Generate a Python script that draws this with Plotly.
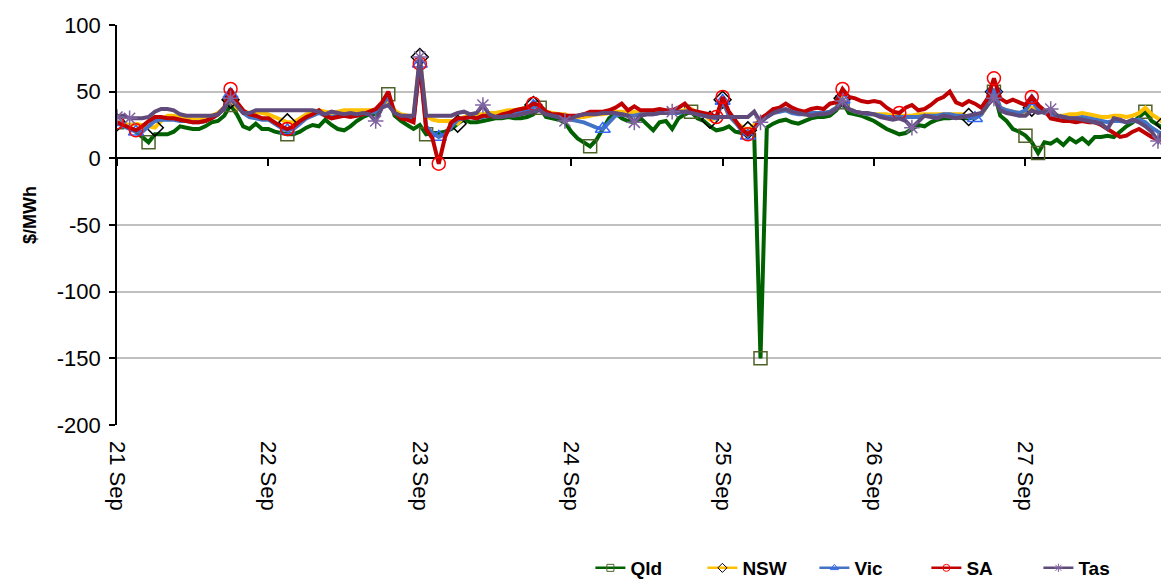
import pandas as pd
import plotly.graph_objects as go

# ---------------- data (hourly prices, $/MWh) ----------------
start = "2019-09-21 00:00"
times = pd.date_range(start, periods=168, freq="h")

tick_dates = ["2019-09-21", "2019-09-22", "2019-09-23", "2019-09-24",
              "2019-09-25", "2019-09-26", "2019-09-27"]
tick_labels = ["21 Sep", "22 Sep", "23 Sep", "24 Sep", "25 Sep", "26 Sep", "27 Sep"]
y_tick_values = [100, 50, 0, -50, -100, -150, -200]
y_tick_labels = ["100", "50", "0", "-50", "-100", "-150", "-200"]

qld = [27, 25, 23, 20, 16, 12, 18, 18, 18, 20, 24, 23, 22, 22, 24, 27, 28, 32, 40, 33, 24, 22, 26, 22,
       22, 20, 19, 18, 18, 20, 23, 25, 24, 29, 25, 22, 21, 24, 28, 31, 33, 33, 40, 48, 32, 28, 25, 22,
       25, 18, 19, 19, 20, 22, 26, 29, 27, 27, 28, 29, 30, 30, 31, 30, 30, 31, 33, 38, 31, 30, 29, 27,
       20, 15, 12, 9, 14, 22, 30, 34, 30, 28, 27, 30, 25, 21, 27, 28, 22, 30, 33, 35, 30, 28, 24, 21,
       22, 24, 20, 19, 19, 18, -150, 23, 26, 28, 29, 27, 26, 28, 30, 31, 31, 32, 36, 42, 34, 33, 32, 30,
       28, 25, 22, 20, 18, 19, 22, 25, 24, 27, 29, 30, 30, 31, 30, 30, 31, 33, 40, 50, 32, 28, 22, 20,
       17, 12, 4, 12, 11, 14, 10, 15, 12, 15, 11, 16, 16, 17, 16, 20, 24, 27, 31, 35, 28, 25, 22, 20]

nsw = [27, 26, 25, 26, 25, 24, 23, 28, 32, 32, 31, 30, 29, 29, 30, 32, 34, 38, 44, 38, 35, 34, 35, 34,
       33, 31, 29, 27, 27, 30, 33, 34, 36, 35, 34, 35, 36, 36, 36, 36, 36, 36, 40, 44, 36, 33, 32, 31,
       76, 32, 29, 28, 28, 28, 26, 31, 32, 33, 33, 34, 34, 35, 36, 36, 37, 38, 40, 39, 35, 34, 33, 33,
       31, 31, 31, 32, 33, 33, 34, 35, 35, 34, 35, 34, 35, 35, 35, 35, 35, 35, 36, 37, 34, 33, 29, 30,
       44, 32, 27, 24, 21, 25, 29, 32, 34, 36, 36, 35, 34, 33, 34, 34, 34, 35, 38, 45, 37, 35, 34, 33,
       33, 33, 33, 32, 32, 32, 32, 33, 33, 33, 33, 33, 33, 33, 33, 31, 33, 33, 42, 50, 38, 36, 35, 34,
       33, 38, 36, 34, 34, 32, 32, 33, 33, 34, 33, 32, 31, 31, 32, 32, 31, 32, 34, 38, 33, 30, 26, 27]

vic = [27, 24, 22, 20, 20, 24, 28, 29, 29, 29, 28, 28, 27, 27, 28, 30, 33, 37, 48, 40, 34, 31, 30, 29,
       29, 26, 23, 21, 22, 26, 30, 32, 34, 32, 31, 32, 33, 32, 32, 33, 34, 35, 40, 46, 34, 31, 30, 29,
       71, 24, 19, 16, 18, 24, 29, 30, 31, 30, 31, 32, 31, 32, 33, 34, 35, 36, 39, 38, 34, 32, 31, 30,
       29, 28, 27, 25, 23, 22, 27, 32, 33, 32, 32, 33, 33, 33, 34, 34, 34, 34, 35, 36, 33, 32, 31, 30,
       43, 32, 27, 21, 17, 22, 28, 31, 34, 35, 36, 34, 33, 33, 34, 34, 34, 35, 38, 44, 37, 35, 34, 33,
       33, 32, 31, 31, 31, 31, 31, 31, 32, 32, 32, 33, 33, 32, 32, 31, 30, 33, 42, 52, 38, 36, 35, 34,
       36, 43, 37, 34, 33, 32, 31, 30, 30, 31, 30, 29, 28, 27, 28, 28, 27, 28, 29, 27, 23, 20, 17, 18]

sa = [27, 25, 23, 21, 24, 28, 31, 31, 30, 30, 29, 28, 27, 27, 28, 30, 33, 38, 52, 42, 36, 33, 32, 30,
      30, 27, 24, 22, 24, 28, 31, 33, 36, 32, 30, 31, 32, 31, 32, 33, 35, 37, 42, 50, 34, 30, 29, 27,
      71, 22, 15, -4, 16, 27, 30, 30, 31, 30, 32, 32, 31, 33, 34, 36, 37, 38, 41, 40, 35, 33, 33, 32,
      32, 32, 33, 35, 35, 35, 36, 38, 41, 36, 39, 36, 36, 36, 37, 36, 36, 38, 41, 36, 35, 34, 33, 31,
      46, 35, 28, 22, 18, 22, 30, 33, 37, 38, 41, 38, 36, 35, 37, 38, 37, 41, 42, 52, 46, 45, 43, 42,
      43, 42, 38, 35, 34, 38, 40, 36, 37, 40, 44, 46, 50, 42, 40, 43, 41, 38, 45, 60, 45, 42, 44, 42,
      40, 46, 40, 36, 30, 29, 28, 28, 27, 28, 27, 27, 25, 22, 19, 16, 17, 20, 22, 19, 16, 14, 13, 12]

tas = [31, 32, 30, 30, 30, 31, 35, 37, 37, 36, 33, 32, 32, 32, 32, 32, 33, 38, 45, 40, 34, 34, 36, 36,
       36, 36, 36, 36, 36, 36, 36, 36, 35, 33, 35, 34, 33, 34, 33, 34, 33, 28, 38, 40, 34, 32, 32, 32,
       76, 32, 32, 32, 32, 32, 34, 35, 33, 34, 40, 33, 31, 31, 32, 32, 33, 34, 35, 36, 33, 32, 31, 28,
       30, 32, 33, 33, 33, 34, 34, 34, 33, 32, 27, 32, 33, 33, 34, 34, 35, 35, 35, 34, 33, 32, 31, 31,
       31, 31, 31, 31, 31, 35, 27, 31, 34, 36, 37, 35, 34, 33, 32, 33, 33, 34, 37, 43, 37, 35, 34, 34,
       33, 31, 30, 29, 30, 28, 23, 28, 32, 31, 30, 32, 31, 30, 31, 32, 33, 34, 40, 45, 36, 34, 33, 32,
       32, 36, 34, 35, 37, 32, 31, 30, 30, 29, 28, 27, 26, 22, 30, 29, 27, 29, 27, 24, 20, 13, 22, 26]

region_names = ["Qld", "NSW", "Vic", "SA", "Tas"]
region_values = [qld, nsw, vic, sa, tas]

# ---------------- styles ----------------
line_colors = ["#006100", "#FFC000", "#4472C4", "#C00000", "#604A7B"]
marker_symbols = ["square-open", "diamond-open", "triangle-up-open", "circle-open", "asterisk-open"]
marker_colors = ["#4F6228", "#000000", "#3366FF", "#FF0000", "#8064A2"]


def daily_extremes(vals):
    """indices of daily max and min (interval-ending convention)"""
    groups = {}
    for i in range(len(vals)):
        groups.setdefault((i - 1) // 24, []).append(i)
    out = set()
    for ids in groups.values():
        out.add(max(ids, key=lambda i: vals[i]))
        out.add(min(ids, key=lambda i: vals[i]))
    return sorted(out)


fig = go.Figure()
for name, vals, lc, sym, mc in zip(region_names, region_values, line_colors,
                                   marker_symbols, marker_colors):
    fig.add_trace(go.Scatter(x=times, y=vals, mode="lines", name=name,
                             line=dict(color=lc, width=4), showlegend=False,
                             legendgroup=name))
    idx = daily_extremes(vals)
    fig.add_trace(go.Scatter(x=[times[i] for i in idx], y=[vals[i] for i in idx],
                             mode="markers", name=name, showlegend=False,
                             legendgroup=name,
                             marker=dict(symbol=sym, size=13, color=mc,
                                         line=dict(width=1.5, color=mc))))

# legend entries
for name, lc, sym, mc in zip(region_names, line_colors, marker_symbols, marker_colors):
    fig.add_trace(go.Scatter(x=[None], y=[None], mode="lines+markers", name=name,
                             legendgroup=name, xaxis="x2",
                             line=dict(color=lc, width=2.5),
                             marker=dict(symbol=sym, size=7, color=mc,
                                         line=dict(width=1, color=mc))))

x_range = ["2019-09-21 00:00", "2019-09-27 22:45"]
base_font = "Liberation Sans, Arial, sans-serif"

# page body has an 8px margin, so the figure is 8px smaller each way
fig.update_layout(
    width=1161, height=571,
    margin=dict(l=109, r=0, t=17, b=154, autoexpand=False),
    plot_bgcolor="white", paper_bgcolor="white",
    font=dict(family=base_font, color="black", size=22),
    xaxis=dict(type="date", range=x_range, tickvals=tick_dates, ticktext=tick_labels,
               tickangle=90, showgrid=False, showline=False, ticks="", zeroline=False,
               ticklabelstandoff=15, automargin=False, tickfont=dict(size=22)),
    xaxis2=dict(type="date", overlaying="x", anchor="free", position=2 / 3,
                range=x_range, tickvals=tick_dates, ticks="outside", ticklen=7,
                tickcolor="black", tickwidth=1.5, showticklabels=False, showgrid=False,
                showline=False, zeroline=False, automargin=False),
    yaxis=dict(range=[-200, 100], tickvals=y_tick_values, ticktext=y_tick_labels,
               showgrid=True, gridcolor="#C0C0C0",
               gridwidth=1.5, zeroline=True, zerolinecolor="black", zerolinewidth=1.5,
               showline=True, linecolor="black", linewidth=1.5, ticks="outside",
               ticklen=6, tickcolor="black", tickwidth=1.5, ticklabelstandoff=4,
               automargin=False, tickfont=dict(size=22)),
    legend=dict(orientation="h", x=0.45, y=-0.3575, xanchor="left", yanchor="middle",
                font=dict(family=base_font, size=19, color="black", weight="bold"),
                entrywidth=67, bgcolor="rgba(0,0,0,0)"),
    annotations=[dict(text="<b>$/MWh</b>", xref="paper", yref="paper",
                      x=-0.0827, y=0.525, xanchor="center", yanchor="middle",
                      textangle=-90, showarrow=False,
                      font=dict(size=18, family=base_font))],
    showlegend=True,
)

fig.write_html("out.html")
